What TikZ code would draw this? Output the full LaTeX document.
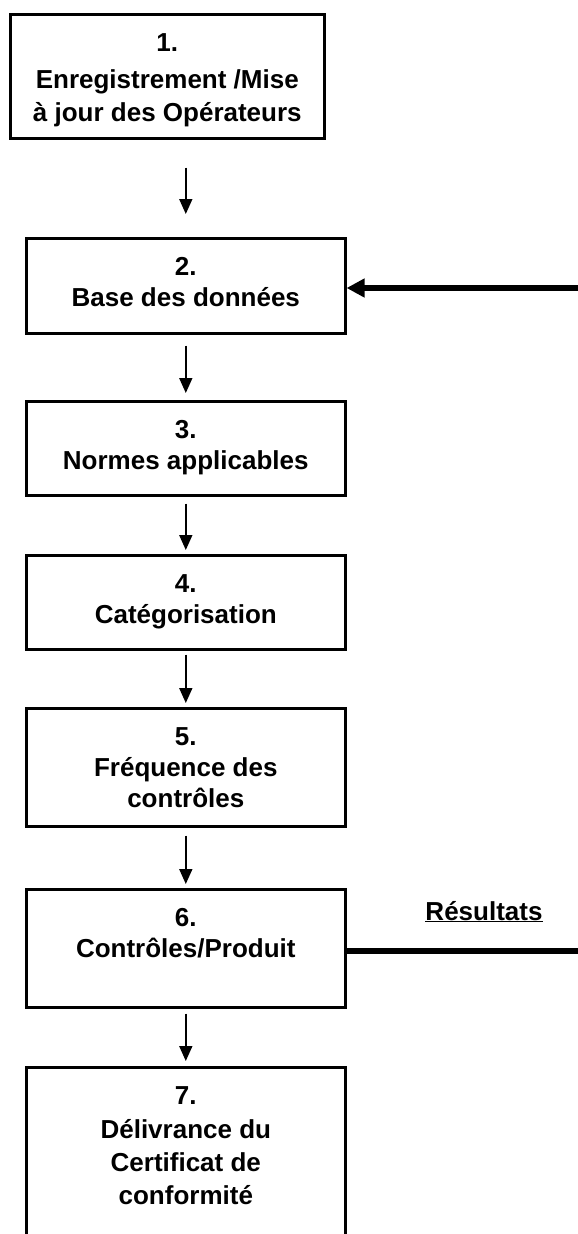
\documentclass[tikz,border=0pt]{standalone}
\usepackage{fontspec}
\setmainfont{Liberation Sans}
\usetikzlibrary{arrows.meta,positioning,calc}
\tikzset{>=latex}
\tikzset{box/.style={draw, line width=2.6pt, anchor=north west, inner sep=0pt}}
\tikzset{boxtext/.style={anchor=north, align=center, inner sep=0pt,
    yshift=-20pt, font=\fontsize{26}{31}\selectfont\bfseries}}
\tikzset{flow/.style={-{Triangle[length=15pt,width=13pt]}, line width=1.7pt}}
\tikzset{feed/.style={line width=6pt}}

\begin{document}
\begin{tikzpicture}[x=1pt,y=-1pt]
  \useasboundingbox (0,0) rectangle (578,1234);
  \clip (0,0) rectangle (578,1234);
  % the seven steps
  \node[box, minimum width=314pt, minimum height=124pt] (b1) at (9,13) {};
  \node[box, minimum width=319pt, minimum height=95pt] (b2) at (25,237) {};
  \node[box, minimum width=319pt, minimum height=94pt] (b3) at (25,400) {};
  \node[box, minimum width=319pt, minimum height=94pt] (b4) at (25,554) {};
  \node[box, minimum width=319pt, minimum height=118pt] (b5) at (25,707) {};
  \node[box, minimum width=319pt, minimum height=118pt] (b6) at (25,888) {};
  \node[box, minimum width=319pt, minimum height=260pt] (b7) at (25,1066) {};
  \node[boxtext] (t1) at (b1.north) {1.\\[6pt]Enregistrement /Mise\\[2pt]à jour des Opérateurs};
  \node[boxtext] (t2) at (b2.north) {2.\\Base des données};
  \node[boxtext] (t3) at (b3.north) {3.\\Normes applicables};
  \node[boxtext] (t4) at (b4.north) {4.\\Catégorisation};
  \node[boxtext] (t5) at (b5.north) {5.\\Fréquence des\\contrôles};
  \node[boxtext] (t6) at (b6.north) {6.\\Contrôles/Produit};
  \node[boxtext] (t7) at (b7.north) {7.\\[3pt]Délivrance du\\[2pt]Certificat de\\[2pt]conformité};
  % arrows between steps
  \draw[flow, shorten <=28pt, shorten >=23pt] (b1.south -| b2.north) -- (b2.north);
  \draw[flow, shorten <=11pt, shorten >=7pt] (b2.south) -- (b3.north);
  \draw[flow, shorten <=7pt, shorten >=4pt] (b3.south) -- (b4.north);
  \draw[flow, shorten <=4pt, shorten >=4pt] (b4.south) -- (b5.north);
  \draw[flow, shorten <=8pt, shorten >=4pt] (b5.south) -- (b6.north);
  \draw[flow, shorten <=5pt, shorten >=5pt] (b6.south) -- (b7.north);
  % feedback
  \coordinate (fin) at (590,288);
  \coordinate (fout) at (590,951);
  \draw[feed, -{Triangle[length=18pt,width=18pt]}] (fin) -- (b2.east |- fin);
  \draw[feed] (b6.east |- fout) -- (fout);
  \node[anchor=base, inner sep=0pt, font=\fontsize{26}{31}\selectfont\bfseries] (res) at (484,920) {\underline{Résultats}};
\end{tikzpicture}
\end{document}
